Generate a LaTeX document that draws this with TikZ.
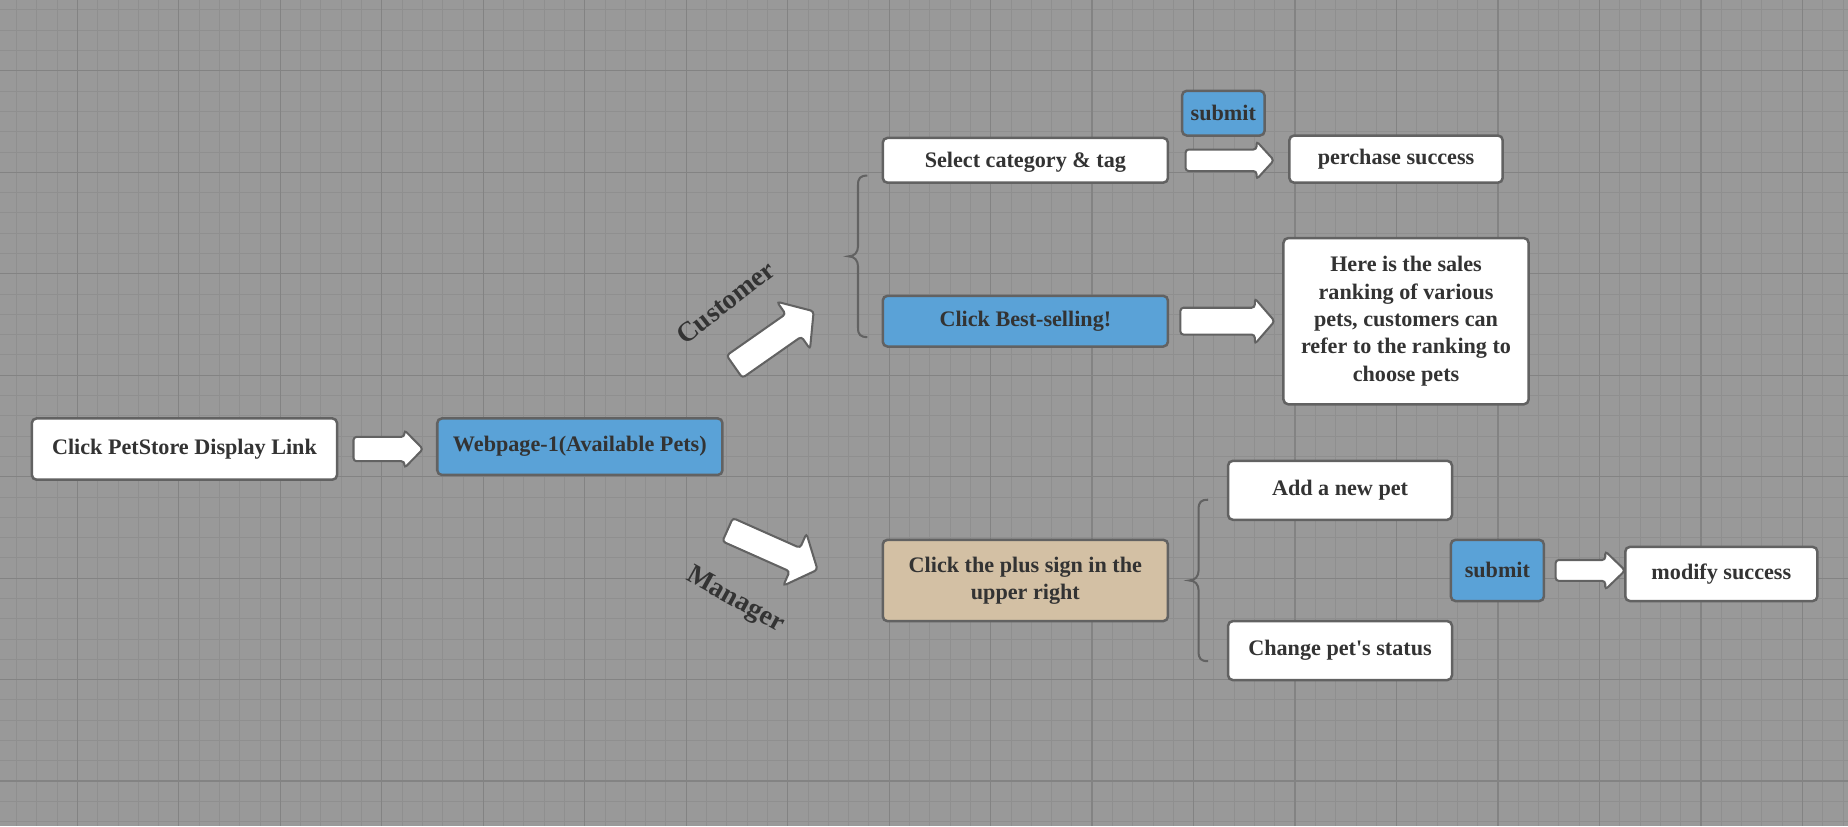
\documentclass[tikz,border=0pt]{standalone}
\usepackage{fontspec}
\setmainfont{Liberation Serif}
\usetikzlibrary{shapes.arrows}

\definecolor{bggray}{RGB}{153,153,153}
\definecolor{minorgray}{RGB}{143,143,143}
\definecolor{majorgray}{RGB}{131,131,131}
\definecolor{edgegray}{RGB}{98,98,98}
\definecolor{inkgray}{RGB}{51,51,51}
\definecolor{boxblue}{RGB}{90,162,215}
\definecolor{boxtan}{RGB}{211,192,164}

\tikzset{every picture/.style={line width=0.75pt}}

\begin{document}
\begin{tikzpicture}[x=0.75pt,y=0.75pt,yscale=-1,xscale=1,
  box/.style={draw=edgegray, line width=1.6pt, rounded corners=3pt, align=center, inner sep=2pt, text=inkgray, font=\fontsize{14.1}{17.4}\selectfont\bfseries},
  whitebox/.style={box, fill=white},
  bluebox/.style={box, fill=boxblue},
  tanbox/.style={box, fill=boxtan},
  blockarrow/.style={single arrow, draw=edgegray, fill=white, line width=1.3pt, rounded corners=2pt, inner xsep=0pt, anchor=tail},
  sidelabel/.style={text=inkgray, font=\fontsize{17.6}{20}\selectfont\bfseries},
  bracket/.style={draw=edgegray, line width=1.3pt},
  minorline/.style={draw=minorgray, line width=0.5pt},
  majorline/.style={draw=majorgray, line width=0.75pt}]
\useasboundingbox (0,0) rectangle (1568,701);

%Shape: Grid
\fill[bggray] (0,0) rectangle (1568,701);
\foreach \i in {0,...,91} {\draw[minorline] (13.94+17.22*\i,0) -- (13.94+17.22*\i,701);}
\foreach \j in {0,...,40} {\draw[minorline] (0,8.34+17.22*\j) -- (1568,8.34+17.22*\j);}
\foreach \k in {0,...,17} {\draw[majorline] (65.6+86.1*\k,0) -- (65.6+86.1*\k,701);}
\foreach \k in {0,...,7} {\draw[majorline] (0,60+86.1*\k) -- (1568,60+86.1*\k);}

% Text Node
\node[whitebox, minimum width=194.25pt, minimum height=39pt] (click) at (156.5,381) {Click PetStore Display Link};
% Text Node
\node[bluebox, minimum width=181.5pt, minimum height=36pt] (web) at (492,379) {Webpage-1(Available Pets)};
% Text Node
\node[whitebox, minimum width=181.5pt, minimum height=28.5pt, text depth=0pt] (select) at (870,136) {Select category \& tag};
% Text Node
\node[bluebox, minimum width=52.5pt, minimum height=28.5pt] (subtop) at (1038,96) {submit};
% Text Node
\node[whitebox, minimum width=135.75pt, minimum height=30pt] (perchase) at (1184.5,135) {perchase success};
% Text Node
\node[bluebox, minimum width=181.5pt, minimum height=32.25pt] (best) at (870,272.5) {Click Best-selling!};
% Text Node
\node[whitebox, minimum width=156pt, minimum height=105.75pt] (rank) at (1193,272.5) {Here is the sales\\ranking of various\\pets, customers can\\refer to the ranking to\\choose pets};
% Text Node
\node[tanbox, minimum width=181.5pt, minimum height=51.75pt] (plus) at (870,492.5) {Click the plus sign in the\\upper right};
% Text Node
\node[whitebox, minimum width=142.5pt, minimum height=37.5pt] (addpet) at (1137,416) {Add a new pet};
% Text Node
\node[whitebox, minimum width=142.5pt, minimum height=37.5pt] (change) at (1137,552) {Change pet\textquotesingle s status};
% Text Node
\node[bluebox, minimum width=59.25pt, minimum height=39pt] (subbot) at (1270.5,484) {submit};
% Text Node
\node[whitebox, minimum width=122.25pt, minimum height=34.5pt] (modify) at (1460.5,487) {modify success};

%Shape: Right Arrow
\node[blockarrow, inner ysep=7.1pt, minimum height=44.25pt, single arrow head extend=4.3pt, single arrow tip angle=91] (go1) at ([xshift=9pt]click.east) {};
%Shape: Right Arrow
\node[blockarrow, inner ysep=6.2pt, minimum height=56.25pt, single arrow head extend=5.25pt, single arrow tip angle=95] (go2) at ([xshift=9.75pt]select.east) {};
%Shape: Right Arrow
\node[blockarrow, inner ysep=7.9pt, minimum height=60pt, single arrow head extend=6pt, single arrow tip angle=98] (go3) at ([xshift=6.45pt]best.east) {};
%Shape: Right Arrow
\node[blockarrow, inner ysep=6pt, minimum height=44.25pt, single arrow head extend=5.6pt, single arrow tip angle=88] (go4) at ([xshift=6pt]subbot.east) {};
%Shape: Right Arrow
\node[blockarrow, rotate=35, inner ysep=8.1pt, minimum height=61.5pt, single arrow head extend=9.6pt, single arrow tip angle=99] (gocust) at (622.5,311.6) {};
%Shape: Right Arrow
\node[blockarrow, rotate=-24, inner ysep=7.5pt, minimum height=62.6pt, single arrow head extend=10pt, single arrow tip angle=98] (gomgr) at (616.6,449.1) {};

% Text Node
\node[sidelabel, rotate=38] (cust) at (615.7,256.5) {Customer};
% Text Node
\node[sidelabel, rotate=-29] (mgr) at (623.6,509.7) {Manager};

%Shape: Brace
\draw[bracket] (736,149) .. controls (730,149) and (728,151) .. (728,157) -- (728,209) .. controls (728,214) and (725,217.5) .. (720,217.5) .. controls (725,217.5) and (728,221) .. (728,226) -- (728,278) .. controls (728,284) and (730,286) .. (736,286);
%Shape: Brace
\draw[bracket] (1025,424) .. controls (1019,424) and (1017,426) .. (1017,432) -- (1017,484) .. controls (1017,489) and (1014,492.5) .. (1009,492.5) .. controls (1014,492.5) and (1017,496) .. (1017,501) -- (1017,553) .. controls (1017,559) and (1019,561) .. (1025,561);

\end{tikzpicture}
\end{document}
